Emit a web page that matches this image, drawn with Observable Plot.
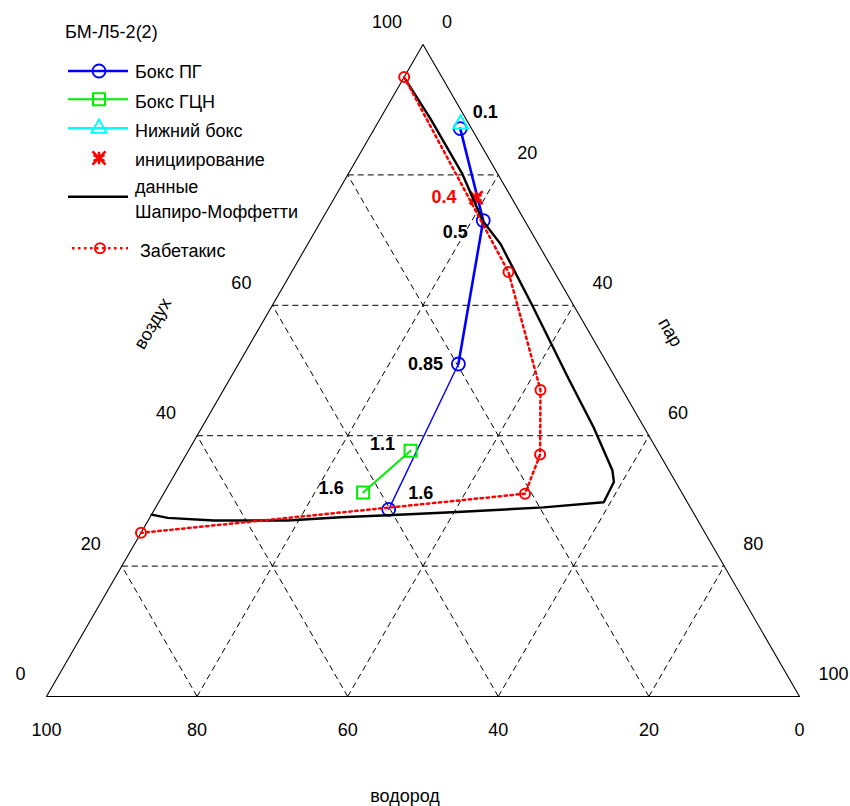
<!DOCTYPE html>
<html>
<head>
<meta charset="utf-8">
<script src="https://cdn.jsdelivr.net/npm/d3@7"></script>
<script src="https://cdn.jsdelivr.net/npm/@observablehq/plot@0.6"></script>
<style>
  body { margin: 0; background: #fff; }
  #chart { position: relative; width: 850px; height: 806px; font-family: "Liberation Sans", Arial, sans-serif; }
  #chart > svg.legend { position: absolute; left: 0; top: 0; pointer-events: none; }
</style>
</head>
<body>
<div id="chart"></div>
<script>
// Mixture compositions, % by volume, as [air, steam]; hydrogen = 100 − air − steam
const boxPG = [[87.1, 11.4], [73.0, 21.5], [51.0, 29.2], [28.7, 31.1]];
const boxPGLabels = ["0.1", "0.5", "0.85", "1.6"];
const boxGCN = [[37.7, 29.5], [31.3, 26.4]];
const boxGCNLabels = ["1.1", "1.6"];
const lowerBox = [[87.8, 11.1]];
const ignition = [[76.5, 18.8]];
const ignitionLabels = ["0.4"];
const shapiroMoffette = [
  [94.5, 0.5], [88.6, 6.7], [80.2, 15.1], [73.0, 21.4], [69.4, 25.6], [60.0, 34.5],
  [48.7, 45.0], [41.3, 52.0], [34.7, 57.8], [32.9, 58.9], [29.8, 59.1], [29.0, 51.5],
  [28.3, 40.4], [27.8, 31.4], [27.5, 25.3], [27.0, 18.5], [27.0, 8.7], [27.4, 2.4], [27.9, 0]
];
const zabetakis = [[95.0, 0], [65.1, 28.8], [47.0, 42.1], [37.1, 47.0], [31.1, 48.0], [25.1, 0]];

// Axis ticks
const gridValues = [20, 40, 60, 80];
const hydrogenTicks = [100, 80, 60, 40, 20, 0];
const airTicks = [100, 60, 40, 20, 0];
const steamTicks = [0, 20, 40, 60, 80, 100];

const chartTitle = "БМ-Л5-2(2)";
const seriesNames = ["Бокс ПГ", "Бокс ГЦН", "Нижний бокс", "инициирование", "данные\nШапиро-Моффетти", "Забетакис"];
const axisTitles = {hydrogen: "водород", air: "воздух", steam: "пар"};

// ternary [air, steam] -> cartesian (hydrogen vertex bottom-left, steam bottom-right, air at top)
const SQ = Math.sqrt(3) / 2;
const toXY = ([a, s]) => ({x: s + a / 2, y: a * SQ});

const font = "'Liberation Sans', Arial, sans-serif";

// dashed grid: lines of constant air, hydrogen and steam
const grid = gridValues.flatMap((v) => [
  [toXY([v, 0]), toXY([v, 100 - v])],
  [toXY([0, 100 - v]), toXY([100 - v, 0])],
  [toXY([0, v]), toXY([100 - v, v])]
]).map(([p, q]) => ({x1: p.x, y1: p.y, x2: q.x, y2: q.y}));

const frame = [[0, 0], [0, 100], [100, 0], [0, 0]].map(toXY);

const pg = boxPG.map(toXY);
const gcn = boxGCN.map(toXY);
const low = lowerBox.map(toXY);
const ign = ignition.map(toXY);
const sm = shapiroMoffette.map(toXY);
const zb = zabetakis.map(toXY);

// point annotations: offsets in px
const pgOffsets = [[25, -16], [-28, 12], [-33, 0], [32, -16]];
const gcnOffsets = [[-28, -6], [-32, -4]];
const ignOffsets = [[-32, 0]];
const annotations = [
  ...pg.map((p, i) => ({...p, text: boxPGLabels[i], off: pgOffsets[i], fill: "#000"})),
  ...gcn.map((p, i) => ({...p, text: boxGCNLabels[i], off: gcnOffsets[i], fill: "#000"})),
  ...ign.map((p, i) => ({...p, text: ignitionLabels[i], off: ignOffsets[i], fill: "#ff0000"}))
];

const plot = Plot.plot({
  width: 850,
  height: 806,
  marginLeft: 46,
  marginRight: 51,
  marginTop: 44,
  marginBottom: 110,
  x: {domain: [0, 100], axis: null},
  y: {domain: [0, 100 * SQ], axis: null},
  style: {background: "white", fontFamily: font, overflow: "visible"},
  marks: [
    Plot.link(grid, {x1: "x1", y1: "y1", x2: "x2", y2: "y2", stroke: "#000", strokeWidth: 1, strokeDasharray: "6,4"}),
    Plot.line(frame, {x: "x", y: "y", stroke: "#000", strokeWidth: 1.1}),

    // Бокс ПГ
    Plot.line(pg.slice(0, 3), {x: "x", y: "y", stroke: "#0000ff", strokeWidth: 2.6}),
    Plot.line(pg.slice(2), {x: "x", y: "y", stroke: "#0000ff", strokeWidth: 1.4}),
    Plot.dot(pg, {x: "x", y: "y", r: 6.5, stroke: "#0000ff", strokeWidth: 1.8, fill: "none"}),

    // Бокс ГЦН
    Plot.line(gcn, {x: "x", y: "y", stroke: "#00ee00", strokeWidth: 2}),
    Plot.dot(gcn, {x: "x", y: "y", r: 6.8, symbol: "square", stroke: "#00ee00", strokeWidth: 2, fill: "none"}),

    // Нижний бокс
    Plot.dot(low, {x: "x", y: "y", r: 5.6, symbol: "triangle", stroke: "#00ffff", strokeWidth: 2, fill: "none"}),

    // инициирование
    Plot.dot(ign, {x: "x", y: "y", r: 6, symbol: "asterisk", stroke: "#ff0000", strokeWidth: 2.5}),
    Plot.dot(ign, {x: "x", y: "y", r: 6, symbol: "times", stroke: "#ff0000", strokeWidth: 2.5}),

    // данные Шапиро-Моффетти
    Plot.line(sm, {x: "x", y: "y", stroke: "#000", strokeWidth: 2.4}),

    // Забетакис
    Plot.line(zb, {x: "x", y: "y", stroke: "#ff0000", strokeWidth: 2.5, strokeDasharray: "2.5,3.5"}),
    Plot.dot(zb, {x: "x", y: "y", r: 5, stroke: "#ff0000", strokeWidth: 2, fill: "none"}),

    // point annotations
    ...annotations.map((d) =>
      Plot.text([d], {x: "x", y: "y", text: "text", dx: d.off[0], dy: d.off[1], fill: d.fill, fontSize: 18, fontWeight: "bold"})
    ),

    // tick labels
    Plot.text(hydrogenTicks, {x: (h) => 100 - h, y: () => 0, text: (d) => String(d), dy: 34, fontSize: 18, fill: "#000"}),
    Plot.text(airTicks, {x: (a) => a / 2, y: (a) => a * SQ, text: (d) => String(d), textAnchor: "end", dx: -21, dy: -22, fontSize: 18, fill: "#000"}),
    Plot.text(steamTicks, {x: (s) => 50 + s / 2, y: (s) => (100 - s) * SQ, text: (d) => String(d), textAnchor: "start", dx: 19, dy: -22, fontSize: 18, fill: "#000"}),

    // axis titles
    Plot.text([axisTitles.hydrogen], {x: () => 50, y: () => 0, text: (d) => d, dx: -18, dy: 100, fontSize: 18, fill: "#000"}),
    Plot.text([axisTitles.air], {x: () => 25, y: () => 50 * SQ, text: (d) => d, dx: -82, dy: -47, rotate: -60, fontSize: 18, fill: "#000"}),
    Plot.text([axisTitles.steam], {x: () => 75, y: () => 50 * SQ, text: (d) => d, dx: 59, dy: -38, rotate: 60, fontSize: 18, fill: "#000"})
  ]
});

const chart = document.getElementById("chart");
chart.appendChild(plot);

// legend
const legend = d3.select(chart).append("svg")
  .attr("class", "legend")
  .attr("width", 340).attr("height", 270)
  .style("font-family", font).style("font-size", "18px");

legend.append("text").attr("x", 65).attr("y", 37.5).attr("fill", "#000").text(chartTitle);

const rowY = [71, 99.3, 128.3, 158, 196.7, 248.3];
const rowBaseline = [78, 108.3, 136.5, 165.7, 193, 256.7];
const swatches = [
  {stroke: "#0000ff", width: 2.6, dash: null, symbol: d3.symbolCircle, r: 6.5, sw: 1.8, color: "#0000ff"},
  {stroke: "#00ee00", width: 2, dash: null, symbol: d3.symbolSquare, r: 6.8, sw: 2, color: "#00ee00"},
  {stroke: "#00ffff", width: 2.6, dash: null, symbol: d3.symbolTriangle, r: 5.6, sw: 2, color: "#00ffff"},
  {stroke: null, symbol: "star", r: 6, sw: 2.5, color: "#ff0000"},
  {stroke: "#000", width: 2.6, dash: null, symbol: null},
  {stroke: "#ff0000", width: 2.5, dash: "2.5,3.5", symbol: d3.symbolCircle, r: 5, sw: 2, color: "#ff0000", x0: 72}
];

seriesNames.forEach((name, i) => {
  const s = swatches[i];
  const y = rowY[i];
  const g = legend.append("g");
  if (s.stroke) {
    g.append("line").attr("x1", s.x0 ?? 68).attr("x2", 128).attr("y1", y).attr("y2", y)
      .attr("stroke", s.stroke).attr("stroke-width", s.width).attr("stroke-dasharray", s.dash);
  }
  if (s.symbol === "star") {
    for (const sym of [d3.symbolAsterisk, d3.symbolTimes]) {
      g.append("path").attr("transform", `translate(99,${y})`)
        .attr("d", d3.symbol(sym, Math.PI * s.r * s.r)())
        .attr("fill", "none").attr("stroke", s.color).attr("stroke-width", s.sw);
    }
  } else if (s.symbol) {
    g.append("path").attr("transform", `translate(${i === 5 ? 100 : 99},${y})`)
      .attr("d", d3.symbol(s.symbol, Math.PI * s.r * s.r)())
      .attr("fill", "none").attr("stroke", s.color).attr("stroke-width", s.sw);
  }
  const lines = name.split("\n");
  const t = g.append("text").attr("x", i === 5 ? 140 : 135).attr("y", rowBaseline[i]).attr("fill", "#000");
  lines.forEach((ln, k) => {
    t.append("tspan").attr("x", i === 5 ? 140 : 135).attr("dy", k === 0 ? 0 : 25.3).text(ln);
  });
});
</script>
</body>
</html>
